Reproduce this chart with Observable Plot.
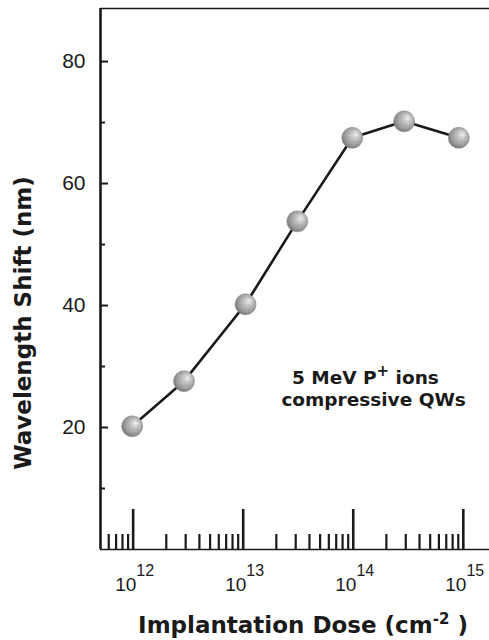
<!DOCTYPE html>
<html><head><meta charset="utf-8">
<script src="https://cdn.jsdelivr.net/npm/d3@7"></script>
<script src="https://cdn.jsdelivr.net/npm/@observablehq/plot@0.6"></script>
<style>
body{margin:0;background:#fff}
svg{font-family:"Liberation Sans",Arial,Helvetica,sans-serif}
</style>
</head><body><div id="chart"></div>
<script>
// ---- data ----
const dose  = [9.8e11, 2.9e12, 1.05e13, 3.1e13, 9.8e13, 2.9e14, 9.1e14];
const shift = [20.2, 27.6, 40.2, 53.8, 67.5, 70.2, 67.5];
const xDomain = [5.05e11, 1.73e15];
const yDomain = [0, 88.7];
const decades = [1e12, 1e13, 1e14, 1e15];
const multipliers = [2, 3, 4, 5, 6, 7, 8, 9];
const yMajor = [20, 40, 60, 80];
const yMinor = [10, 30, 50, 70];
const xTitle = "Implantation Dose (cm{-2} )";
const yTitle = "Wavelength Shift (nm)";
const noteLines = ["5 MeV P{+} ions", "compressive QWs"];
const noteX = [1.29e14, 1.53e14];
const noteY = [27.2, 23.6];

const minorX = [1e11, ...decades].flatMap(d => multipliers.map(m => d * m))
  .filter(v => v > xDomain[0] && v < xDomain[1]);
const pts = dose.map((d, i) => ({dose: d, shift: shift[i]}));

const ink = "#1a1a1a";
const boldFont = "'DejaVu Sans', Verdana, sans-serif";
const svg = Plot.plot({
  width: 489, height: 640,
  marginLeft: 100, marginRight: 0, marginTop: 8, marginBottom: 91,
  x: {type: "log", domain: xDomain},
  y: {domain: yDomain},
  style: {background: "white", color: ink},
  marks: [
    Plot.ruleY([yDomain[0]], {stroke: ink, strokeWidth: 1.6}),
    Plot.ruleY([yDomain[1]], {stroke: ink, strokeWidth: 1.6}),
    Plot.ruleX([xDomain[0]], {stroke: ink, strokeWidth: 2.6}),
    Plot.axisY({ticks: yMajor, tickSize: 0, tickPadding: 15, fontSize: 21, label: null, tickFormat: d => String(d)}),
    Plot.axisY({ticks: yMajor, tickSize: -8, fill: "none", strokeWidth: 2, label: null}),
    Plot.axisY({ticks: yMinor, tickSize: -5, fill: "none", strokeWidth: 2, label: null}),
    Plot.axisX({ticks: decades, tickSize: -40, fill: "none", strokeWidth: 2.6, label: null}),
    Plot.axisX({ticks: minorX, tickSize: -15, fill: "none", strokeWidth: 2.2, label: null}),
    Plot.text(decades, {x: d => d, frameAnchor: "bottom", text: d => `10{${Math.round(Math.log10(d))}}`,
      textAnchor: "start", lineAnchor: "bottom", dx: -18, dy: 41, fontSize: 19, fill: ink}),
    Plot.line(pts, {x: "dose", y: "shift", stroke: ink, strokeWidth: 2.6}),
    Plot.dot(pts, {x: "dose", y: "shift", r: 10.5, fill: "url(#ball)", stroke: "#8a8a8a", strokeWidth: 0.6}),
    Plot.dot(pts, {x: "dose", y: "shift", r: 10, fill: "url(#speck)"}),
    Plot.text(noteLines, {x: (d, i) => noteX[i], y: (d, i) => noteY[i], text: d => d,
      textAnchor: "middle", lineAnchor: "bottom", fontSize: 18.5, fontWeight: "bold", fontFamily: boldFont, fill: ink}),
    Plot.text([xTitle], {frameAnchor: "bottom", text: d => d, textAnchor: "middle", lineAnchor: "bottom", dx: 8, dy: 83,
      fontSize: 23, fontWeight: "bold", fontFamily: boldFont, fill: ink}),
    Plot.text([yTitle], {frameAnchor: "left", text: d => d, rotate: -90, textAnchor: "middle", lineAnchor: "middle", dx: -77, dy: 44,
      fontSize: 23, fontWeight: "bold", fontFamily: boldFont, fill: ink})
  ]
});

d3.select(svg).insert("defs", ":first-child").html(
  `<radialGradient id="ball" cx="0.56" cy="0.44" r="0.62" fx="0.68" fy="0.34">
     <stop offset="0" stop-color="#f8f8f8"/>
     <stop offset="0.3" stop-color="#cccccc"/>
     <stop offset="0.75" stop-color="#999999"/>
     <stop offset="1" stop-color="#6a6a6a"/>
   </radialGradient>
   <pattern id="speck" width="4" height="4" patternUnits="userSpaceOnUse">
     <circle cx="1" cy="1" r="0.8" fill="#555" fill-opacity="0.35"/>
     <circle cx="3" cy="3" r="0.6" fill="#666" fill-opacity="0.25"/>
   </pattern>`);

function supify(pattern, size, rise) {
  d3.select(svg).selectAll("text").filter(function () { return pattern.test(this.textContent); })
    .each(function () {
      const parts = this.textContent.split(/(\{[^}]*\})/).filter(s => s.length);
      const el = d3.select(this); el.text(null);
      let up = false;
      for (const p of parts) {
        if (p.startsWith("{")) {
          el.append("tspan").attr("dy", -rise).attr("font-size", size).text(p.slice(1, -1)); up = true;
        } else {
          const ts = el.append("tspan").text(p);
          if (up) { ts.attr("dy", rise); up = false; }
        }
      }
    });
}
supify(/^10\{/, 16, 15);
supify(/cm\{/, 15, 9);
supify(/P\{/, 15, 8);

document.getElementById("chart").appendChild(svg);
</script>
</body></html>
